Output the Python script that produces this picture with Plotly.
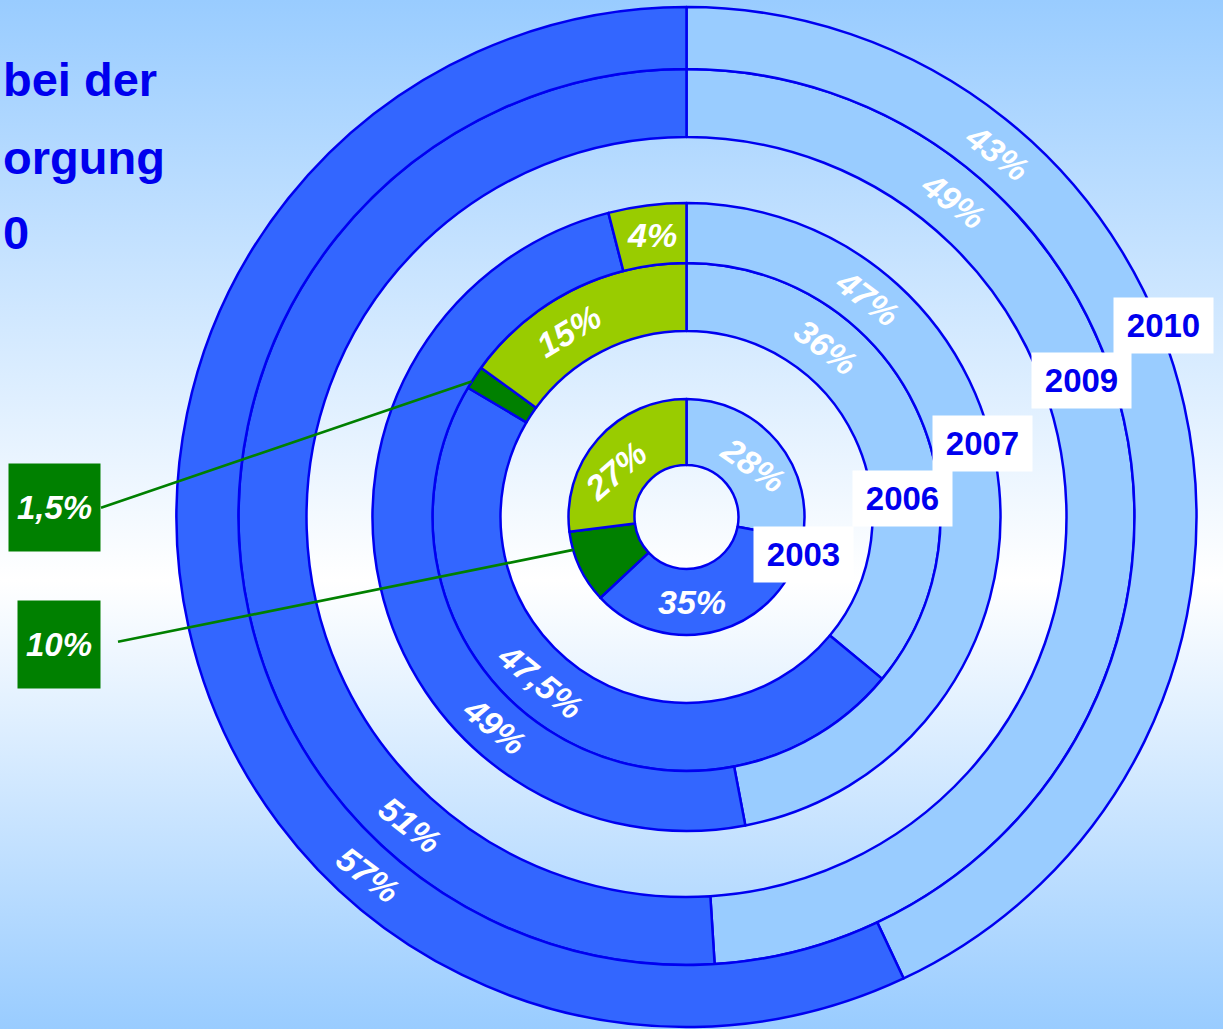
import math
import plotly.graph_objects as go

W, H = 1223, 1029

# ---------------- data ----------------
years = ["2003", "2006", "2007", "2009", "2010"]
categories = ["Anteil A", "Anteil B", "Anteil C", "Anteil D"]
share_lightblue = [28, 36, 47, 49, 43]
share_blue = [35, 47.5, 49, 51, 57]
share_darkgreen = [10, 1.5, 0, 0, 0]
share_yellowgreen = [27, 15, 4, 0, 0]
title_lines = ["bei der", "orgung", "0"]   # visible part of the (cut) slide title

# ---------------- style / layout ----------------
colors = ["#99ccff", "#3366ff", "#008000", "#99cc00"]
outline = "#0000f0"
CX, CY = 686.5, 517.0
ring_radii = {"2003": (52, 118), "2006": (186, 254), "2007": (254, 314),
              "2009": (380, 448), "2010": (448, 510)}
# label placement (angle clockwise from 12 o'clock) and text rotation per slice
label_angle = {"2003": [52, 176, None, 303], "2006": [39.3, 221.7, None, 327.6],
               "2007": [39.6, 222.5, None, 353], "2009": [40.2, 221.9, None, None],
               "2010": [40.5, 221.6, None, None]}
label_rot = {"2003": [35, 0, 0, -41], "2006": [37, 39, 0, -31],
             "2007": [37, 39, 0, 0], "2009": [37, 38, 0, 0], "2010": [37, 37, 0, 0]}
year_box = {"2010": (1163.5, 325.5), "2009": (1081.5, 380.5), "2007": (982.5, 443),
            "2006": (902.5, 498), "2003": (803.5, 554)}
# dark-green callouts: box centre, box width, line tail, position inside slice
green_box = {"2006": ((54.5, 507.5), 91, (100, 508), 0.3),
             "2003": ((59, 644.5), 82, (117, 642), 0.75)}

SANS = "Liberation Sans, Arial, sans-serif"


def fmt(v):
    return f"{v:g}".replace(".", ",") + "%"


def to_paper(px, py):
    return px / W, 1 - py / H


fig = go.Figure()

# background gradient
fig.add_trace(go.Scatter(
    x=[0, 1, 1, 0, 0], y=[0, 0, 1, 1, 0], mode="lines", line=dict(width=0),
    fill="toself",
    fillgradient=dict(type="vertical",
                      colorscale=[[0, "#99ccff"], [0.436, "#ffffff"], [1, "#99ccff"]]),
    hoverinfo="skip", showlegend=False))

annotations = []

for i, yr in enumerate(years):
    vals = [share_lightblue[i], share_blue[i], share_darkgreen[i], share_yellowgreen[i]]
    keep = [k for k, v in enumerate(vals) if v > 0]
    r_in, r_out = ring_radii[yr]
    fig.add_trace(go.Pie(
        values=[vals[k] for k in keep],
        labels=[categories[k] for k in keep],
        marker=dict(colors=[colors[k] for k in keep], line=dict(color=outline, width=2.5)),
        hole=r_in / r_out, sort=False, direction="clockwise", rotation=0,
        textinfo="none", hoverinfo="label+value", name=yr, showlegend=False,
        domain=dict(x=[(CX - r_out) / W, (CX + r_out) / W],
                    y=[(H - CY - r_out) / H, (H - CY + r_out) / H])))

    r_mid = (r_in + r_out) / 2
    for k in keep:
        a = label_angle[yr][k]
        if a is None:
            continue
        px = CX + r_mid * math.sin(math.radians(a))
        py = CY - r_mid * math.cos(math.radians(a))
        x, y = to_paper(px, py)
        annotations.append(dict(
            x=x, y=y, xref="paper", yref="paper", xanchor="center", yanchor="middle",
            text=fmt(vals[k]), showarrow=False, textangle=label_rot[yr][k],
            font=dict(family=SANS, size=34, color="white", weight="bold", style="italic")))

    # year label box
    bx, by = year_box[yr]
    x, y = to_paper(bx, by)
    annotations.append(dict(
        x=x, y=y, xref="paper", yref="paper", xanchor="center", yanchor="middle",
        text=f"<b>{yr}</b>", showarrow=False,
        width=99, height=55, bgcolor="white", borderpad=0,
        font=dict(family=SANS, size=33, color="#0000ee")))

    # external dark-green label with pointer line
    if yr in green_box and share_darkgreen[i] > 0:
        (gx, gy), gw, (tx, ty), frac = green_box[yr]
        start = 3.6 * (share_lightblue[i] + share_blue[i])
        ang = start + frac * 3.6 * share_darkgreen[i]
        px = CX + r_out * math.sin(math.radians(ang))
        py = CY - r_out * math.cos(math.radians(ang))
        x, y = to_paper(px, py)
        annotations.append(dict(
            x=x, y=y, xref="paper", yref="paper", text=" ",
            showarrow=True, arrowhead=0, arrowwidth=2.7, arrowcolor="#008000",
            ax=tx - px, ay=ty - py, width=1, height=1, borderpad=0,
            font=dict(size=1)))
        x, y = to_paper(gx, gy)
        annotations.append(dict(
            x=x, y=y, xref="paper", yref="paper", xanchor="center", yanchor="middle",
            text=fmt(share_darkgreen[i]), showarrow=False,
            width=gw, height=87, bgcolor="#008000", borderpad=0,
            font=dict(family=SANS, size=33, color="white", weight="bold", style="italic")))

# title fragments at the left edge
title_left = 1
title_center_y = [80, 158, 232]
for line, cy in zip(title_lines, title_center_y):
    x, y = to_paper(title_left, cy)
    annotations.append(dict(
        x=x, y=y, xref="paper", yref="paper", xanchor="left", yanchor="middle",
        text=f"<b>{line}</b>", showarrow=False,
        font=dict(family=SANS, size=47, color="#0000ee")))

fig.update_layout(
    width=W, height=H, margin=dict(l=0, r=0, t=0, b=0),
    paper_bgcolor="#99ccff", plot_bgcolor="rgba(0,0,0,0)",
    xaxis=dict(range=[0, 1], visible=False, fixedrange=True),
    yaxis=dict(range=[0, 1], visible=False, fixedrange=True),
    annotations=annotations, showlegend=False)

fig.write_html("out.html", config={"displayModeBar": False},
               post_script="document.body.style.margin='0';")
